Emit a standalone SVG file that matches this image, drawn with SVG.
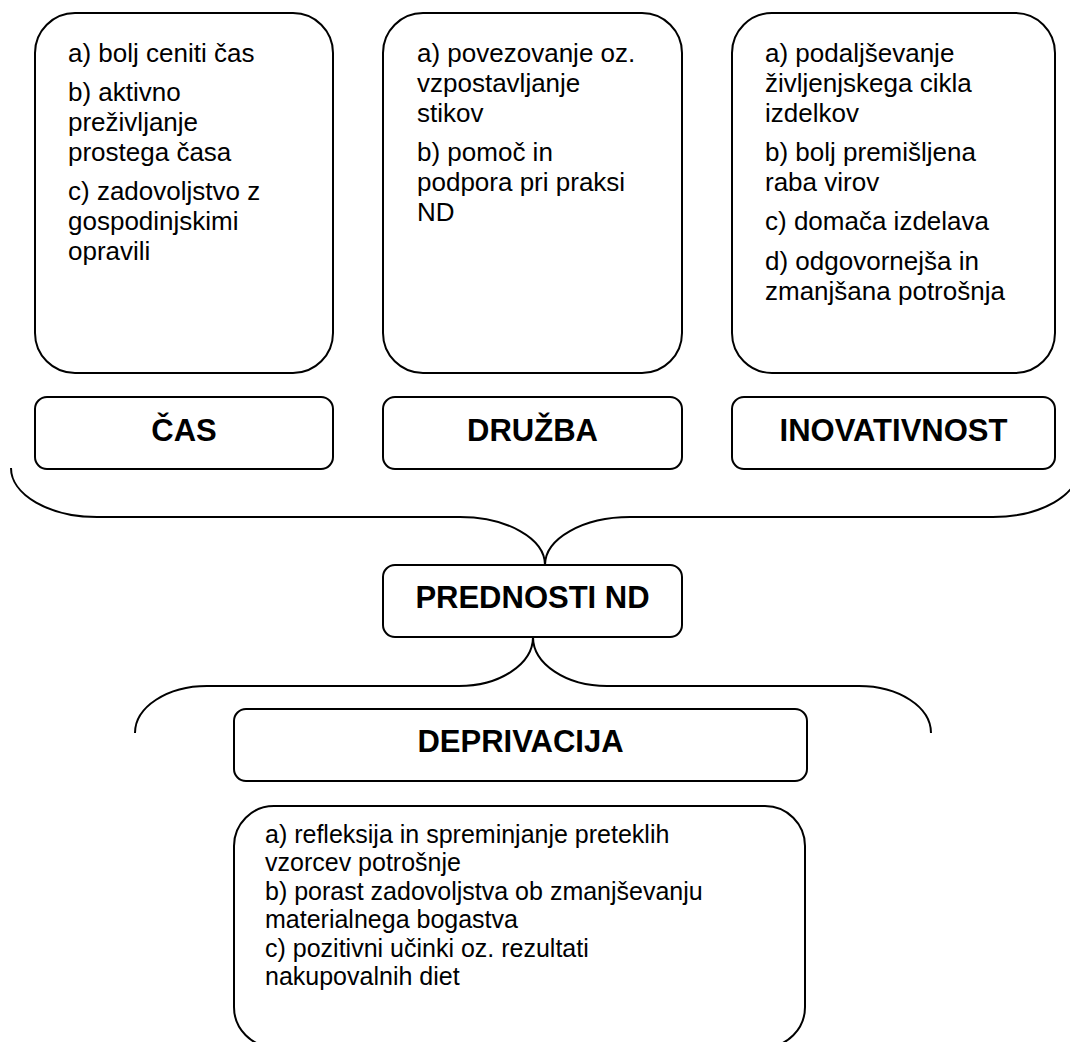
<svg xmlns="http://www.w3.org/2000/svg" width="1070" height="1042" viewBox="0 0 1070 1042">
<style>
.box{fill:#fff;stroke:#000;stroke-width:2}
.br{fill:none;stroke:#000;stroke-width:2}
.t{font-family:"Liberation Sans",Arial,sans-serif;font-size:26px;fill:#000}
.tb{font-family:"Liberation Sans",Arial,sans-serif;font-size:25px;fill:#000}
.h{font-family:"Liberation Sans",Arial,sans-serif;font-size:31px;font-weight:bold;fill:#000;text-anchor:middle}
</style>
<rect width="1070" height="1042" fill="#fff"/>
<g id="connectors">
<path class="br" d="M11,468 A86,49 0 0 0 97,517 L460,517 A85,48 0 0 1 545,565 A85,48 0 0 1 630,517 L993,517 A86,49 0 0 0 1079,468"/>
<path class="br" d="M135,733 A72,47 0 0 1 207,686 L459,686 A74,49 0 0 0 533,637 A74,49 0 0 0 607,686 L859,686 A72,47 0 0 1 931,733"/>
</g>
<g id="cas-details">
<rect class="box" x="35" y="13" width="298" height="360" rx="40"/>
<text class="t" x="68" y="62">a) bolj ceniti čas</text>
<text class="t" x="68" y="101">b) aktivno</text>
<text class="t" x="68" y="131">preživljanje</text>
<text class="t" x="68" y="161">prostega časa</text>
<text class="t" x="68" y="200">c) zadovoljstvo z</text>
<text class="t" x="68" y="230">gospodinjskimi</text>
<text class="t" x="68" y="260">opravili</text>
</g>
<g id="druzba-details">
<rect class="box" x="383" y="13" width="299" height="360" rx="40"/>
<text class="t" x="417" y="62">a) povezovanje oz.</text>
<text class="t" x="417" y="92">vzpostavljanje</text>
<text class="t" x="417" y="122">stikov</text>
<text class="t" x="417" y="161">b) pomoč in</text>
<text class="t" x="417" y="191">podpora pri praksi</text>
<text class="t" x="417" y="221">ND</text>
</g>
<g id="inovativnost-details">
<rect class="box" x="732" y="13" width="323" height="360" rx="40"/>
<text class="t" x="765" y="62">a) podaljševanje</text>
<text class="t" x="765" y="92">življenjskega cikla</text>
<text class="t" x="765" y="122">izdelkov</text>
<text class="t" x="765" y="161">b) bolj premišljena</text>
<text class="t" x="765" y="191">raba virov</text>
<text class="t" x="765" y="230">c) domača izdelava</text>
<text class="t" x="765" y="270">d) odgovornejša in</text>
<text class="t" x="765" y="300">zmanjšana potrošnja</text>
</g>
<g id="cas">
<rect class="box" x="35" y="397" width="298" height="72" rx="12"/>
<text class="h" x="184" y="441">ČAS</text>
</g>
<g id="druzba">
<rect class="box" x="383" y="397" width="299" height="72" rx="12"/>
<text class="h" x="532.5" y="441">DRUŽBA</text>
</g>
<g id="inovativnost">
<rect class="box" x="732" y="397" width="323" height="72" rx="12"/>
<text class="h" x="893.5" y="441">INOVATIVNOST</text>
</g>
<g id="prednosti">
<rect class="box" x="383" y="565" width="299" height="72" rx="12"/>
<text class="h" x="532.5" y="608">PREDNOSTI ND</text>
</g>
<g id="deprivacija">
<rect class="box" x="234" y="709" width="573" height="72" rx="12"/>
<text class="h" x="520.5" y="752">DEPRIVACIJA</text>
</g>
<g id="deprivacija-details">
<rect class="box" x="234" y="806" width="571" height="241" rx="40"/>
<text class="tb" x="265" y="843">a) refleksija in spreminjanje preteklih</text>
<text class="tb" x="265" y="871">vzorcev potrošnje</text>
<text class="tb" x="265" y="900">b) porast zadovoljstva ob zmanjševanju</text>
<text class="tb" x="265" y="928">materialnega bogastva</text>
<text class="tb" x="265" y="957">c) pozitivni učinki oz. rezultati</text>
<text class="tb" x="265" y="985">nakupovalnih diet</text>
</g>
</svg>
